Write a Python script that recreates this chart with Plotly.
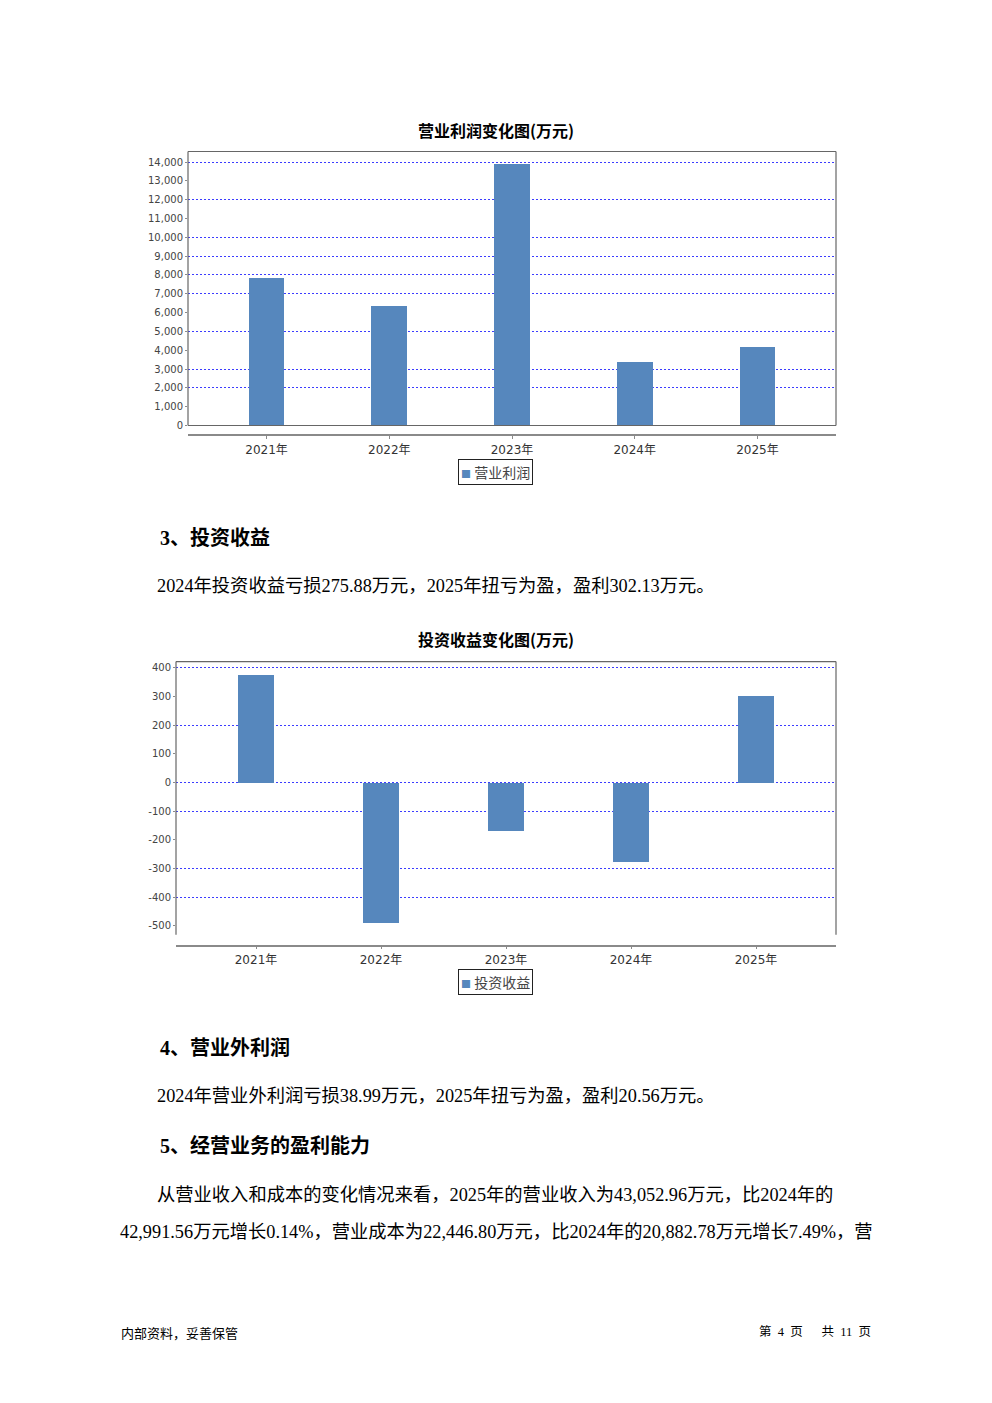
import plotly.graph_objects as go

# The page body has an 8px default margin; the figure is sized to fit inside it.
OFF = 8
W, H = 976, 1380

years = ["2021年", "2022年", "2023年", "2024年", "2025年"]
op_profit = [7820, 6320, 13850, 3340, 4120]
inv_income = [376, -489, -169, -275.88, 302.13]

op_ticks = list(range(0, 14001, 1000))
op_grid = [2000, 3000, 5000, 7000, 8000, 9000, 10000, 12000, 14000]
inv_ticks = list(range(-500, 401, 100))
inv_grid = [-400, -300, -100, 0, 200, 400]

title1 = "营业利润变化图(万元)"
title2 = "投资收益变化图(万元)"
name1 = "营业利润"
name2 = "投资收益"

BAR = "#5687bd"
GRID = "#3c3cff"
BOX = "#666666"
AXIS = "#8a8a8a"
TICKFONT = dict(family="DejaVu Sans, Noto Sans CJK SC", size=10, color="#444444")
CATFONT = dict(family="DejaVu Sans, Noto Sans CJK SC", size=12, color="#333333")
BODY = "Liberation Serif, Noto Sans CJK SC"


def px(x):
    return (x - OFF) / W


def py(y):
    return 1 - (y - OFF) / H


fig = go.Figure()
fig.add_trace(go.Bar(x=years, y=op_profit, name=name1, marker=dict(color=BAR, line=dict(width=0)),
                     width=0.29, xaxis="x", yaxis="y", showlegend=False))
fig.add_trace(go.Bar(x=years, y=inv_income, name=name2, marker=dict(color=BAR, line=dict(width=0)),
                     width=0.29, xaxis="x2", yaxis="y2", showlegend=False))
# invisible carriers so the tick-label axes are drawn
fig.add_trace(go.Scatter(x=years, y=op_profit, xaxis="x", yaxis="y3", mode="markers",
                         marker=dict(opacity=0), showlegend=False, hoverinfo="skip"))
fig.add_trace(go.Scatter(x=years, y=inv_income, xaxis="x2", yaxis="y4", mode="markers",
                         marker=dict(opacity=0), showlegend=False, hoverinfo="skip"))

xcommon = dict(type="category", showline=True, linecolor=AXIS, linewidth=1.5, ticks="outside",
               ticklen=3, tickcolor=AXIS, tickfont=CATFONT, showgrid=False, zeroline=False,
               range=[-0.64, 4.64], fixedrange=True)

op_range = [0, 14560]
inv_range = [-531, 421]
GRIDDASH = "2px,2px"

fig.update_layout(
    width=W, height=H, margin=dict(l=0, r=0, t=0, b=0),
    paper_bgcolor="white", plot_bgcolor="white", showlegend=False, bargap=0,
    xaxis=dict(domain=[px(188), px(836)], anchor="free", position=py(437), **xcommon),
    yaxis=dict(domain=[py(427), py(152)], anchor="x", range=op_range, tickvals=op_grid,
               showticklabels=False, showgrid=True, gridcolor=GRID, griddash=GRIDDASH, gridwidth=1,
               zeroline=False, showline=False, ticks=""),
    yaxis3=dict(overlaying="y", anchor="x", side="left", range=op_range, tickvals=op_ticks,
                tickformat=",", showgrid=False, zeroline=False, showline=False, ticks="outside",
                ticklen=2, tickcolor=AXIS, tickfont=TICKFONT),
    xaxis2=dict(domain=[px(176), px(836)], anchor="free", position=py(949), **xcommon),
    yaxis2=dict(domain=[py(938), py(664)], anchor="x2", range=inv_range, tickvals=inv_grid,
                showticklabels=False, showgrid=True, gridcolor=GRID, griddash=GRIDDASH, gridwidth=1,
                zeroline=False, showline=False, ticks=""),
    yaxis4=dict(overlaying="y2", anchor="x2", side="left", range=inv_range, tickvals=inv_ticks,
                ticktext=[str(v) for v in inv_ticks],
                showgrid=False, zeroline=False, showline=False, ticks="outside",
                ticklen=2, tickcolor=AXIS, tickfont=TICKFONT),
)

# plot boxes
shapes = []
for (l, t, r, b, bottom) in [(188, 152, 836, 427, True), (176, 664, 836, 938, False)]:
    shapes.append(dict(type="line", xref="paper", yref="paper", x0=px(l), x1=px(r), y0=py(t), y1=py(t),
                       line=dict(color=BOX, width=1.2)))
    shapes.append(dict(type="line", xref="paper", yref="paper", x0=px(l), x1=px(l), y0=py(t), y1=py(b),
                       line=dict(color=BOX, width=1.2)))
    shapes.append(dict(type="line", xref="paper", yref="paper", x0=px(r), x1=px(r), y0=py(t), y1=py(b),
                       line=dict(color=BOX, width=1.2)))
    if bottom:
        shapes.append(dict(type="line", xref="paper", yref="paper", x0=px(l), x1=px(r), y0=py(b), y1=py(b),
                           line=dict(color=BOX, width=1.2)))
fig.update_layout(shapes=shapes)

ann = []


def text(s, x, y, size, family=BODY, anchor="left", color="#000", bold=False, **kw):
    d = dict(text=("<b>%s</b>" % s) if bold else s, x=px(x), y=py(y), xref="paper", yref="paper",
             xanchor=anchor, yanchor="middle", showarrow=False,
             font=dict(family=family, size=size, color=color))
    d.update(kw)
    ann.append(d)


# legends (boxed keys under each chart)
for nm, yy in [(name1, 473.5), (name2, 985.5)]:
    text("<span style='font-size:10px;color:%s'>■</span>&nbsp;%s" % (BAR, nm), 495, yy, 14,
         family="Noto Sans CJK SC", anchor="center", color="#444", bordercolor="#222",
         borderwidth=1, borderpad=2, bgcolor="white")

text(title1, 496, 130, 16, family="Noto Sans CJK SC", anchor="center", bold=True)
text(title2, 496, 641, 16, family="Noto Sans CJK SC", anchor="center", bold=True)
text("3、投资收益", 158, 540, 20, bold=True)
text("2024年投资收益亏损275.88万元，2025年扭亏为盈，盈利302.13万元。", 155, 588, 18.3)
text("4、营业外利润", 158, 1051, 20, bold=True)
text("2024年营业外利润亏损38.99万元，2025年扭亏为盈，盈利20.56万元。", 155, 1100, 18.3)
text("5、经营业务的盈利能力", 158, 1150, 20, bold=True)
text("从营业收入和成本的变化情况来看，2025年的营业收入为43,052.96万元，比2024年的", 155, 1199, 18.3)
text("42,991.56万元增长0.14%，营业成本为22,446.80万元，比2024年的20,882.78万元增长7.49%，营", 118, 1236, 18.3)
text("内部资料，妥善保管", 119, 1337, 13, family="Noto Sans CJK SC")
text("第&nbsp;&nbsp;4&nbsp;&nbsp;页&nbsp;&nbsp;&nbsp;&nbsp;&nbsp;&nbsp;共&nbsp;&nbsp;11&nbsp;&nbsp;页",
     873, 1337, 12.5, family="Liberation Serif, Noto Sans CJK SC", anchor="right")
fig.update_layout(annotations=ann)

fig.write_html("out.html")
